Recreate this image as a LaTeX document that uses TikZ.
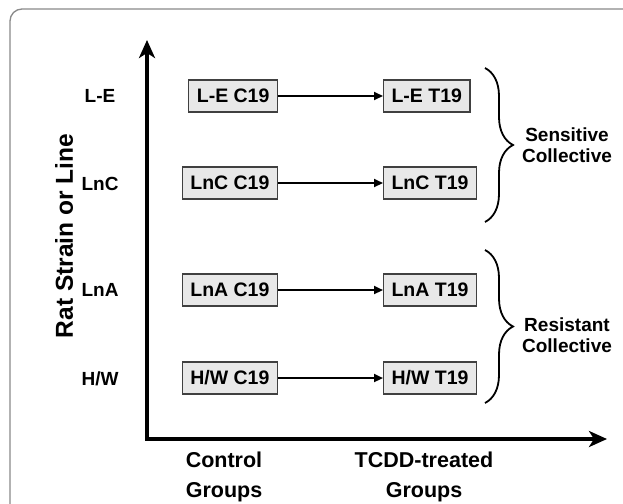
\documentclass[tikz,border=0pt]{standalone}
\usepackage{fontspec}
\setmainfont{Liberation Sans}
\usetikzlibrary{arrows.meta,decorations.pathreplacing}
\definecolor{boxfill}{HTML}{E8E8E8}
\definecolor{boxedge}{HTML}{404040}
\definecolor{frame}{HTML}{8A8A8A}
\tikzset{
  grp/.style={draw=boxedge, fill=boxfill, line width=1.1pt, minimum height=32pt,
    inner xsep=8pt, inner ysep=0pt, font=\fontsize{19.5}{22}\bfseries\selectfont},
  rowlab/.style={font=\fontsize{19}{22}\bfseries\selectfont},
  colllab/.style={font=\fontsize{19}{21}\bfseries\selectfont, align=center},
  axlab/.style={font=\fontsize{21.5}{30}\bfseries\selectfont, align=center},
  flow/.style={line width=2.2pt, -{Triangle[length=9pt,width=8pt]}},
  axis/.style={line width=4pt, line join=miter},
  bracestyle/.style={line width=1.8pt, decorate, decoration={brace, amplitude=28pt}}
}
\begin{document}
\begin{tikzpicture}[x=1pt,y=-1pt]
\useasboundingbox (0,0) rectangle (623,503);
\clip (0,0) rectangle (623,503);
\fill[white] (0,0) rectangle (623,503);
\draw[frame, line width=1.3pt, rounded corners=12pt] (10,9) rectangle (660,540);

% axes
\coordinate (origin) at (147,439);
\coordinate (ytip) at (147,40);
\coordinate (xtip) at (607,439);
\draw[axis, {Stealth[length=18pt,width=16pt,inset=5pt]}-{Stealth[length=18pt,width=16pt,inset=5pt]}] (ytip) -- (origin) -- (xtip);

% row labels
\node[rowlab] (rLE) at (100,96) {L-E};
\node[rowlab] (rLnC) at (100,184) {LnC};
\node[rowlab] (rLnA) at (100,290) {LnA};
\node[rowlab] (rHW) at (100,379) {H/W};

% y axis label
\node[font=\fontsize{24.5}{28}\bfseries\selectfont, rotate=90] (ylab) at (64,236) {Rat Strain or Line};

% boxes
\node[grp, anchor=east] (cLE) at (278,96) {L-E C19};
\node[grp, anchor=west] (tLE) at (383,96) {L-E T19};
\node[grp, anchor=east] (cLnC) at (278,183) {LnC C19};
\node[grp, anchor=west] (tLnC) at (383,183) {LnC T19};
\node[grp, anchor=east] (cLnA) at (278,290) {LnA C19};
\node[grp, anchor=west] (tLnA) at (383,290) {LnA T19};
\node[grp, anchor=east] (cHW) at (278,378) {H/W C19};
\node[grp, anchor=west] (tHW) at (383,378) {H/W T19};

\draw[flow] (cLE) -- (tLE);
\draw[flow] (cLnC) -- (tLnC);
\draw[flow] (cLnA) -- (tLnA);
\draw[flow] (cHW) -- (tHW);

% braces
\coordinate (s1) at (485,68);
\coordinate (s2) at (485,222);
\coordinate (r1) at (485,250);
\coordinate (r2) at (485,403);
\draw[bracestyle] (s1) -- (s2);
\draw[bracestyle] (r1) -- (r2);
\node[colllab] (sens) at (567,145) {Sensitive\\Collective};
\node[colllab] (res) at (567,335) {Resistant\\Collective};

% x axis labels
\node[axlab] (ctrl) at (224,477) {Control\\Groups};
\node[axlab] (tcdd) at (424,477) {TCDD-treated\\Groups};
\end{tikzpicture}
\end{document}
